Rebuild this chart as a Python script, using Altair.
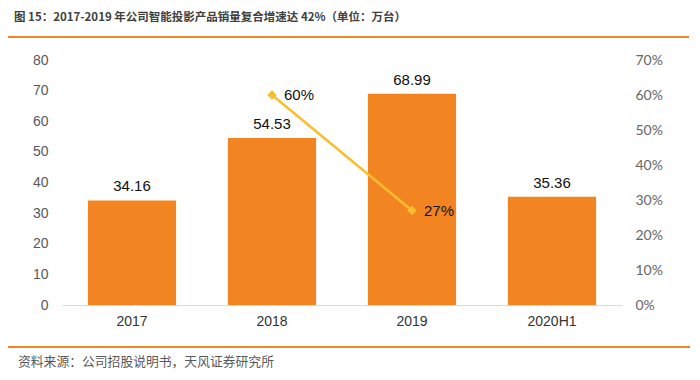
import altair as alt
import pandas as pd

years = ["2017", "2018", "2019", "2020H1"]
sales = [34.16, 54.53, 68.99, 35.36]
growth_years = ["2018", "2019"]
growth = [0.60, 0.27]
growth_labels = ["60%", "27%"]

title_text = "图 15：2017-2019 年公司智能投影产品销量复合增速达 42%（单位：万台）"
source_text = "资料来源：公司招股说明书，天风证券研究所"

bars_df = pd.DataFrame({"year": years, "sales": sales, "label": [f"{v:.2f}" for v in sales]})
line_df = pd.DataFrame({"year": growth_years, "growth": growth, "label": growth_labels})

W, H = 560, 245
ORANGE = "#F28522"
YELLOW = "#FBBD2E"
CJK = "Noto Sans CJK SC"

xscale = alt.Scale(domain=years, paddingInner=0.37, paddingOuter=0.185)
ylscale = alt.Scale(domain=[0, 80])
yrscale = alt.Scale(domain=[0, 0.7])

x = alt.X("year:N", scale=xscale, sort=years,
          axis=alt.Axis(title=None, labelAngle=0, ticks=False, domain=True, domainColor="#D9D9D9",
                        labelFont="Liberation Sans", labelFontSize=14, labelColor="#333333",
                        labelPadding=9))

yl = alt.Y("sales:Q", scale=ylscale,
           axis=alt.Axis(title=None, values=list(range(0, 81, 10)), grid=False, domain=False,
                         ticks=False, labelFont="Liberation Sans", labelFontSize=14,
                         labelColor="#595959", labelPadding=14, labelOverlap=False))

bars = alt.Chart(bars_df).mark_bar(color=ORANGE).encode(x=x, y=yl)
bar_text = alt.Chart(bars_df).mark_text(dy=-14, fontSize=15, font="Liberation Sans", color="#111111").encode(
    x=x, y=yl, text="label:N")
left = alt.layer(bars, bar_text)

yr = alt.Y("growth:Q", scale=yrscale,
           axis=alt.Axis(title=None, orient="right", values=[i / 10 for i in range(8)], format=".0%",
                         grid=False, domain=False, ticks=False, labelFont="Lato", labelFontSize=14,
                         labelColor="#666666", labelPadding=13, labelOverlap=False))
line = alt.Chart(line_df).mark_line(color=YELLOW, strokeWidth=2.5).encode(x=x, y=yr)
pts = alt.Chart(line_df).mark_point(shape="diamond", filled=True, size=90, color=YELLOW, opacity=1).encode(
    x=x, y=yr)
line_text = alt.Chart(line_df).mark_text(align="left", dx=12, fontSize=15, font="Liberation Sans", color="#111111").encode(
    x=x, y=yr, text="label:N")
right = alt.layer(line, pts, line_text)

deco_df = pd.DataFrame({"t": [title_text], "s": [source_text]})
title = alt.Chart(deco_df).mark_text(align="left", baseline="middle", fontSize=11.5, fontWeight="bold",
                                      font=CJK, color="#404040").encode(
    x=alt.value(-48), y=alt.value(-42), text="t:N")
source = alt.Chart(deco_df).mark_text(align="left", baseline="middle", fontSize=12.8,
                                       font=CJK, color="#595959").encode(
    x=alt.value(-44), y=alt.value(302), text="s:N")
top_rule = alt.Chart(deco_df).mark_rule(color=ORANGE, strokeWidth=2).encode(
    x=alt.value(-54), x2=alt.value(627), y=alt.value(-23))
bot_rule = alt.Chart(deco_df).mark_rule(color=ORANGE, strokeWidth=2).encode(
    x=alt.value(-54), x2=alt.value(628), y=alt.value(287))

chart = alt.layer(left, right, title, source, top_rule, bot_rule).resolve_scale(y="independent").properties(
    width=W, height=H,
    background="white",
    autosize=alt.AutoSizeParams(type="none"),
    padding={"left": 54, "top": 52, "right": 70, "bottom": 66},
).configure_view(strokeWidth=0, stroke="transparent")

chart.save("out.html", embed_options={"renderer": "svg", "actions": False})
